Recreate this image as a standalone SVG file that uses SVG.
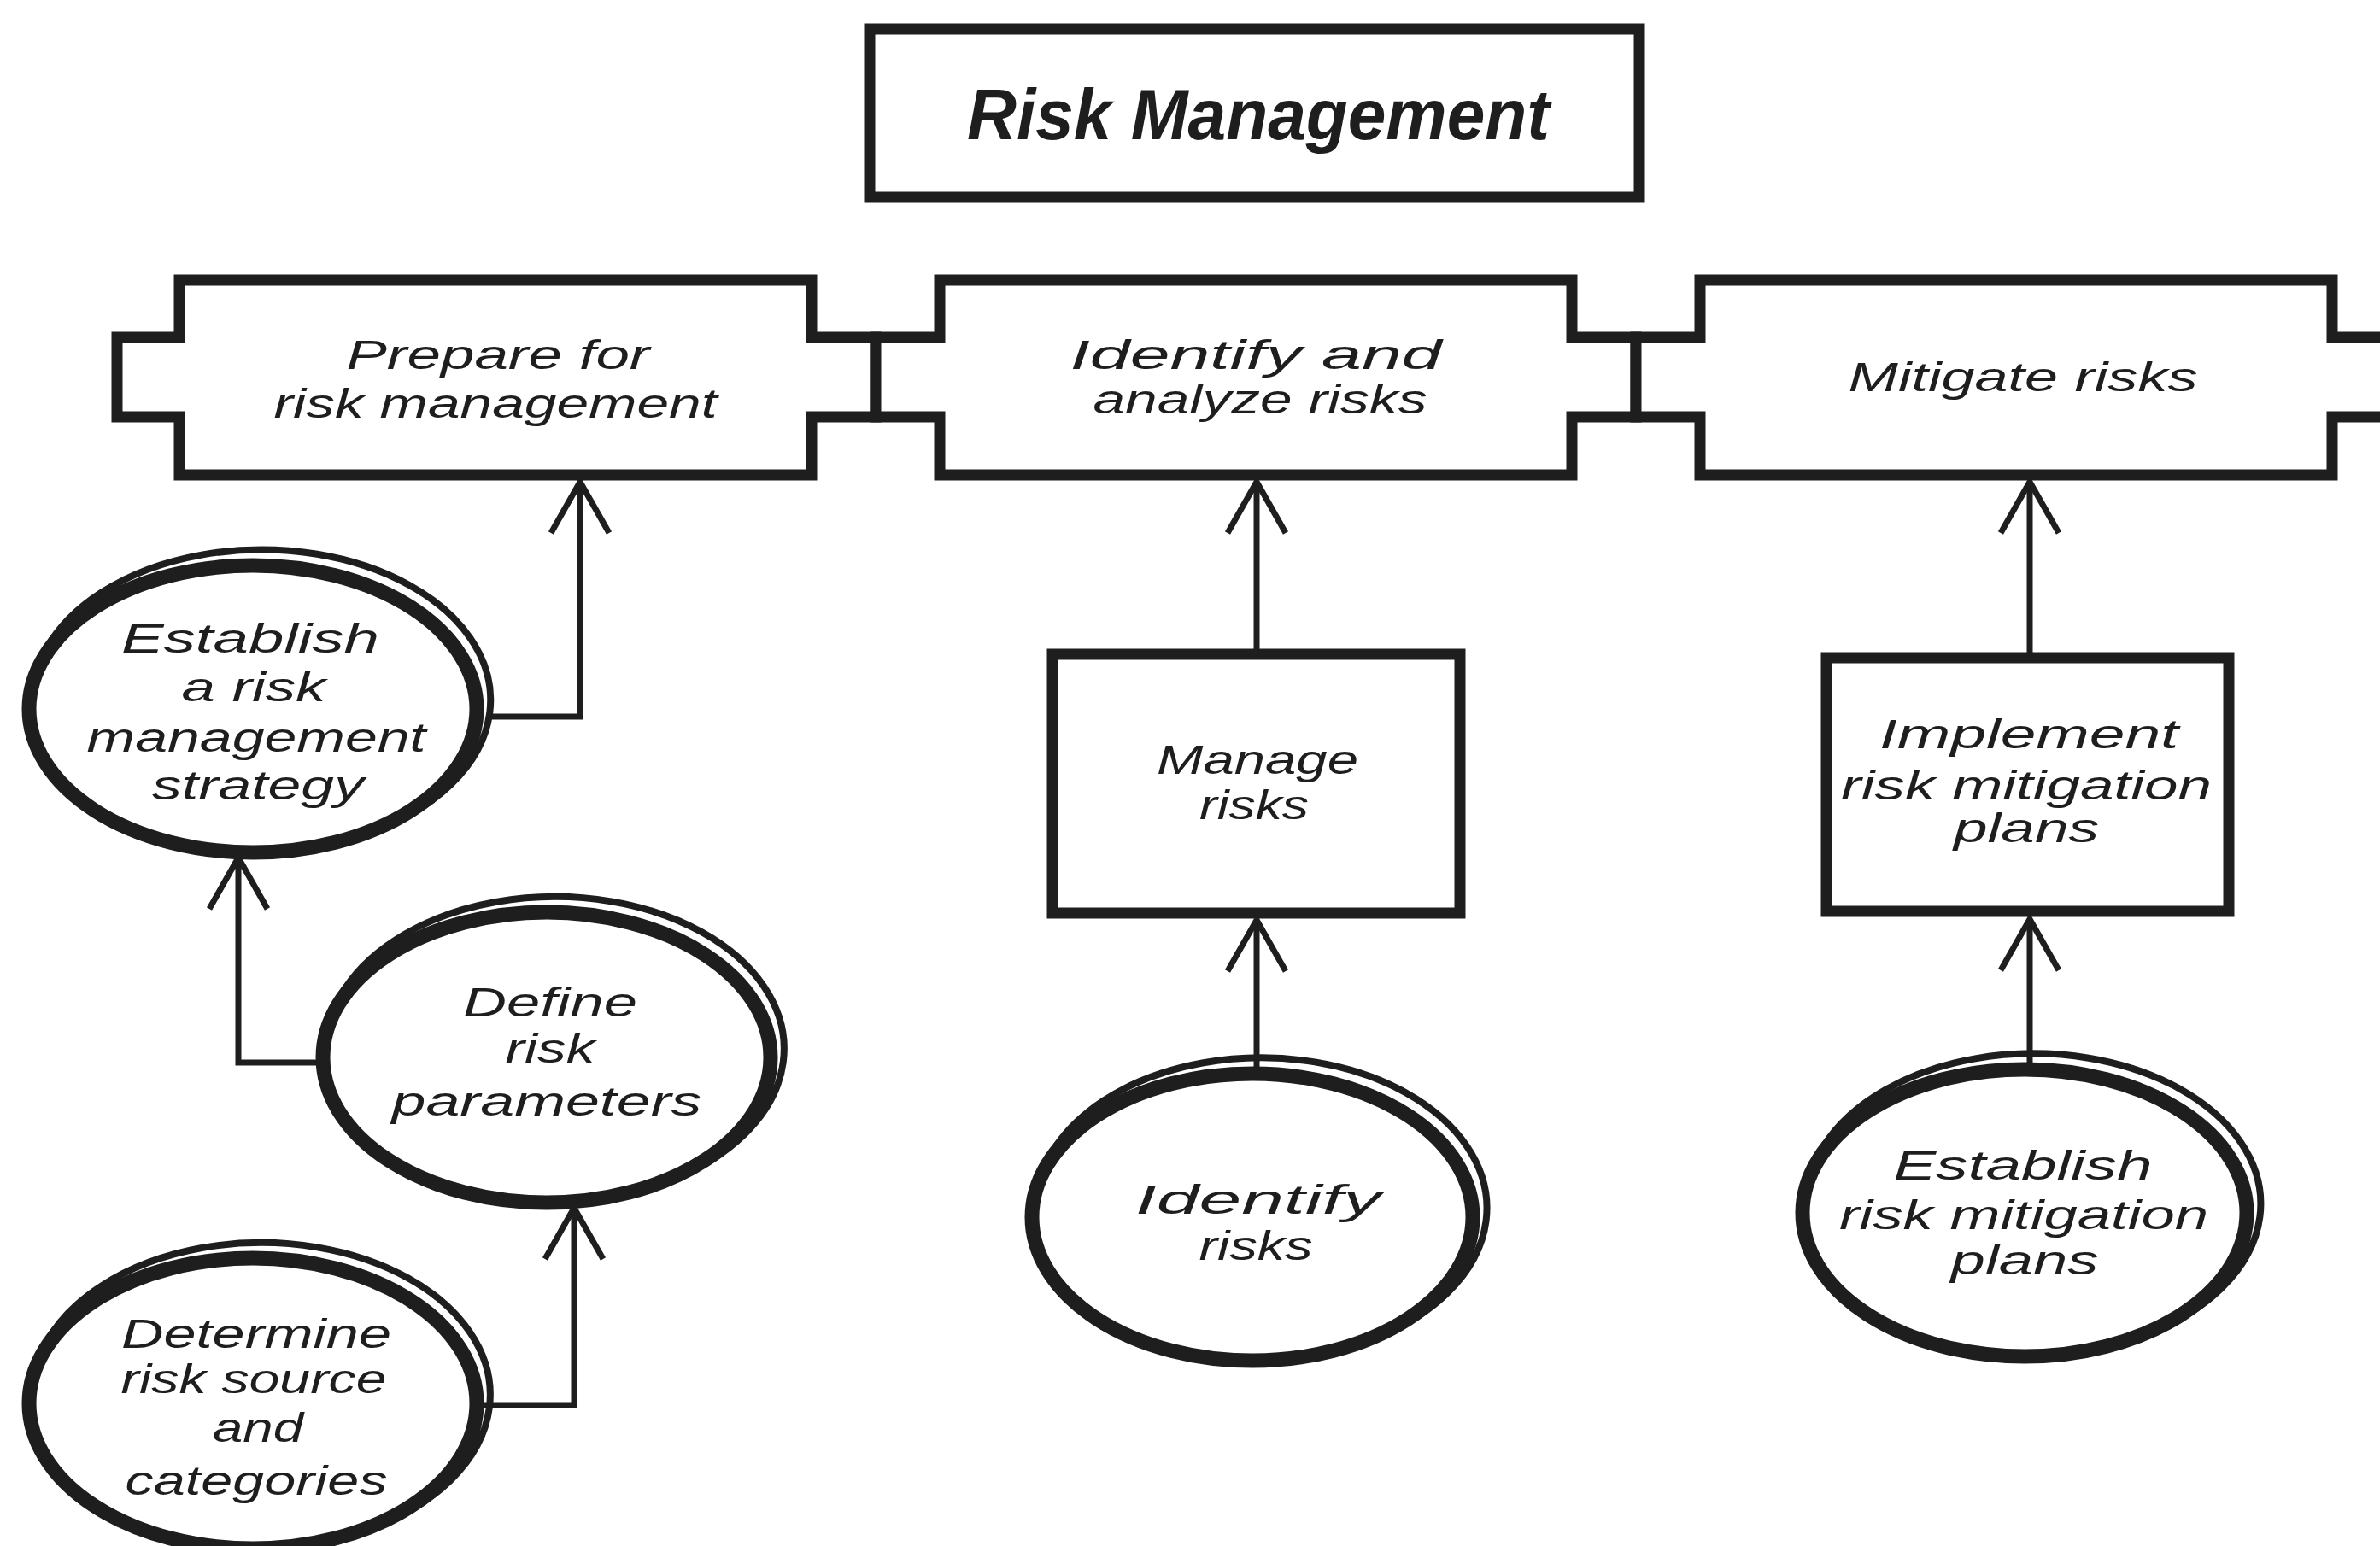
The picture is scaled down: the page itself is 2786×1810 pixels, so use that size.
<svg xmlns="http://www.w3.org/2000/svg" width="2786" height="1810" viewBox="0 0 2786 1810">
  <defs>
    <style>
      .box { fill: #ffffff; stroke: #1e1e1e; stroke-width: 13; stroke-linejoin: miter; }
      .loop { fill: #ffffff; stroke: #1e1e1e; stroke-width: 17; }
      .loop2 { fill: none; stroke: #1e1e1e; stroke-width: 8; stroke-linecap: round; }
      .wire { fill: none; stroke: #1e1e1e; stroke-width: 7; }
      .lbl { font-family: "Liberation Sans", "DejaVu Sans", sans-serif; font-style: italic; font-size: 48px; fill: #1e1e1e; text-anchor: middle; }
      .title { font-family: "Liberation Sans", "DejaVu Sans", sans-serif; font-style: italic; font-weight: bold; font-size: 84px; fill: #1e1e1e; text-anchor: middle; }
    </style>
    <marker id="arrow" markerUnits="userSpaceOnUse" viewBox="-8 -42 76 84" markerWidth="76" markerHeight="84" refX="58" refY="0" orient="auto">
      <path d="M 0 -34 L 60 0 L 0 34" fill="none" stroke="#1e1e1e" stroke-width="7"/>
    </marker>
  </defs>

  <rect width="2786" height="1810" fill="#ffffff"/>

  <!-- connectors -->
  <g id="connectors">
    <path class="wire" d="M 572 839 H 679 V 566" marker-end="url(#arrow)"/>
    <path class="wire" d="M 380 1244 H 279 V 1006" marker-end="url(#arrow)"/>
    <path class="wire" d="M 566 1645 H 672 V 1416" marker-end="url(#arrow)"/>
    <path class="wire" d="M 1471 760 V 566" marker-end="url(#arrow)"/>
    <path class="wire" d="M 1471 1250 V 1079" marker-end="url(#arrow)"/>
    <path class="wire" d="M 2376 764 V 566" marker-end="url(#arrow)"/>
    <path class="wire" d="M 2376 1245 V 1078" marker-end="url(#arrow)"/>
  </g>

  <!-- title -->
  <g id="risk-management">
    <rect class="box" x="1018" y="34" width="901" height="197"/>
    <text class="title" x="1473" y="163" textLength="682" lengthAdjust="spacingAndGlyphs">Risk Management</text>
  </g>

  <!-- process strip -->
  <g id="prepare">
    <path class="box" d="M 137 395 H 210 V 328 H 950 V 395 H 1025 V 488 H 950 V 556 H 210 V 488 H 137 Z"/>
    <text class="lbl" x="583" y="432" textLength="355" lengthAdjust="spacingAndGlyphs">Prepare for</text>
    <text class="lbl" x="580" y="489" textLength="519" lengthAdjust="spacingAndGlyphs">risk management</text>
  </g>
  <g id="identify-analyze">
    <path class="box" d="M 1025 395 H 1100 V 328 H 1840 V 395 H 1915 V 488 H 1840 V 556 H 1100 V 488 H 1025 Z"/>
    <text class="lbl" x="1470" y="432" textLength="435" lengthAdjust="spacingAndGlyphs">Identify and</text>
    <text class="lbl" x="1475" y="484" textLength="391" lengthAdjust="spacingAndGlyphs">analyze risks</text>
  </g>
  <g id="mitigate">
    <path class="box" d="M 2800 395 H 2730 V 328 H 1990 V 395 H 1915 V 488 H 1990 V 556 H 2730 V 488 H 2800"/>
    <text class="lbl" x="2368" y="458" textLength="409" lengthAdjust="spacingAndGlyphs">Mitigate risks</text>
  </g>

  <!-- activities -->
  <g id="manage-risks">
    <rect class="box" x="1232" y="766" width="477" height="303"/>
    <text class="lbl" x="1472" y="906" textLength="236" lengthAdjust="spacingAndGlyphs">Manage</text>
    <text class="lbl" x="1468" y="959" textLength="128" lengthAdjust="spacingAndGlyphs">risks</text>
  </g>
  <g id="implement-plans">
    <rect class="box" x="2138" y="770" width="471" height="297"/>
    <text class="lbl" x="2375" y="876" textLength="350" lengthAdjust="spacingAndGlyphs">Implement</text>
    <text class="lbl" x="2372" y="936" textLength="434" lengthAdjust="spacingAndGlyphs">risk mitigation</text>
    <text class="lbl" x="2372" y="986" textLength="170" lengthAdjust="spacingAndGlyphs">plans</text>
  </g>

  <!-- sub-activities: each loop is a heavy ellipse plus a lighter second pass -->
  <g id="establish-strategy">
    <ellipse class="loop" cx="296" cy="830" rx="262" ry="168"/>
    <path class="loop2" d="M 54 760 A 268 176 0 1 1 440 972"/>
    <text class="lbl" x="293" y="764" textLength="302" lengthAdjust="spacingAndGlyphs">Establish</text>
    <text class="lbl" x="297" y="821" textLength="169" lengthAdjust="spacingAndGlyphs">a risk</text>
    <text class="lbl" x="300" y="880" textLength="397" lengthAdjust="spacingAndGlyphs">management</text>
    <text class="lbl" x="302" y="936" textLength="248" lengthAdjust="spacingAndGlyphs">strategy</text>
  </g>
  <g id="define-parameters">
    <ellipse class="loop" cx="640" cy="1238" rx="262" ry="170"/>
    <path class="loop2" d="M 398 1167 A 268 178 0 1 1 784 1382"/>
    <text class="lbl" x="644" y="1190" textLength="204" lengthAdjust="spacingAndGlyphs">Define</text>
    <text class="lbl" x="644" y="1244" textLength="105" lengthAdjust="spacingAndGlyphs">risk</text>
    <text class="lbl" x="640" y="1306" textLength="363" lengthAdjust="spacingAndGlyphs">parameters</text>
  </g>
  <g id="determine-sources">
    <ellipse class="loop" cx="296" cy="1643" rx="262" ry="170"/>
    <path class="loop2" d="M 54 1572 A 268 178 0 1 1 440 1787"/>
    <text class="lbl" x="300" y="1578" textLength="316" lengthAdjust="spacingAndGlyphs">Determine</text>
    <text class="lbl" x="297" y="1631" textLength="311" lengthAdjust="spacingAndGlyphs">risk source</text>
    <text class="lbl" x="302" y="1688" textLength="106" lengthAdjust="spacingAndGlyphs">and</text>
    <text class="lbl" x="300" y="1750" textLength="307" lengthAdjust="spacingAndGlyphs">categories</text>
  </g>
  <g id="identify-risks">
    <ellipse class="loop" cx="1466" cy="1425" rx="258" ry="168"/>
    <path class="loop2" d="M 1228 1355 A 264 176 0 1 1 1608 1567"/>
    <text class="lbl" x="1473" y="1421" textLength="288" lengthAdjust="spacingAndGlyphs">Identify</text>
    <text class="lbl" x="1470" y="1475" textLength="133" lengthAdjust="spacingAndGlyphs">risks</text>
  </g>
  <g id="establish-plans">
    <ellipse class="loop" cx="2370" cy="1420" rx="260" ry="168"/>
    <path class="loop2" d="M 2130 1350 A 266 176 0 1 1 2513 1562"/>
    <text class="lbl" x="2368" y="1381" textLength="303" lengthAdjust="spacingAndGlyphs">Establish</text>
    <text class="lbl" x="2369" y="1439" textLength="432" lengthAdjust="spacingAndGlyphs">risk mitigation</text>
    <text class="lbl" x="2370" y="1492" textLength="173" lengthAdjust="spacingAndGlyphs">plans</text>
  </g>
</svg>
